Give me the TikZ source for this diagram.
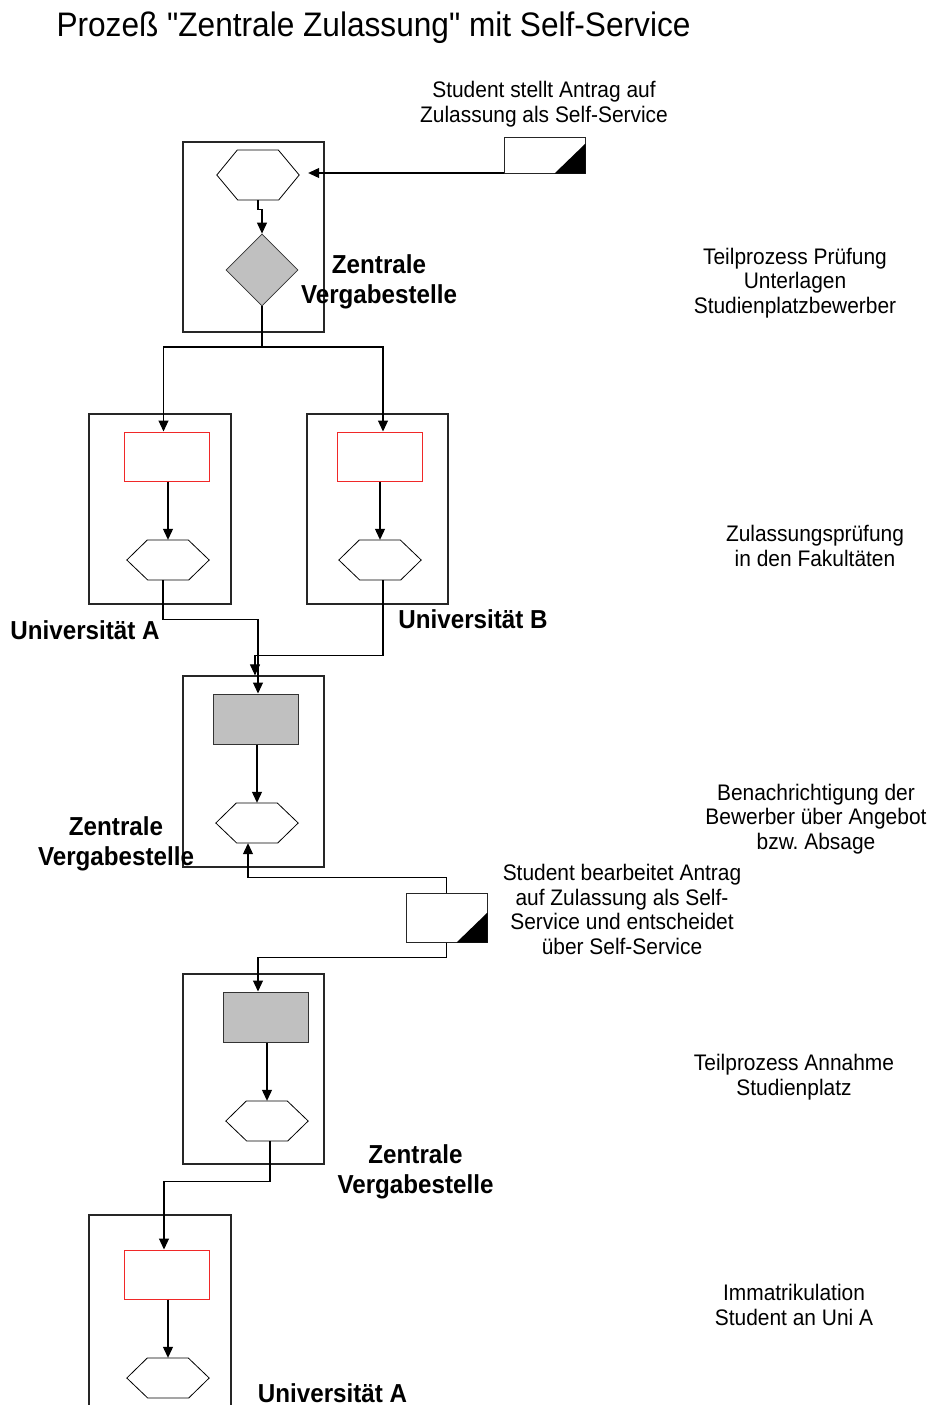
\documentclass[tikz,border=0pt]{standalone}
\usepackage{fontspec}
\setmainfont{Liberation Sans}[FakeStretch=0.93, Ligatures=TeXOff]
\usetikzlibrary{arrows.meta,shapes.geometric}
\definecolor{actred}{RGB}{240,40,40}
\definecolor{eventgray}{RGB}{192,192,192}
\frenchspacing

% event hexagon: name, x, y, height (width is fixed at 82)
\newcommand{\hexevent}[4]{%
  \node[hexslot, minimum height=#4pt] (#1) at (#2,#3) {};
  \draw[hexline] (#1.west) -- ++(20.5,-#4/2) -- ++(41,0) -- (#1.east)
    -- ++(-20.5,#4/2) -- ++(-41,0) -- cycle;
}
% self-service document: name, x, y, height
\newcommand{\selfservice}[4]{%
  \node[docbox, minimum height=#4pt] (#1) at (#2,#3) {};
  \fill (#1.south east) -- ++(-31,0) -- ++(31,-30) -- cycle;
}

\begin{document}
\begin{tikzpicture}[x=1pt,y=-1pt,
  lane/.style={draw=black!85, line width=1.2pt, minimum width=141pt,
    minimum height=190pt, inner sep=0pt},
  actbox/.style={draw=actred, line width=1pt, minimum width=85pt,
    minimum height=49pt, inner sep=0pt},
  graybox/.style={draw=black!80, fill=eventgray, line width=1pt,
    minimum width=85pt, minimum height=50pt, inner sep=0pt},
  hexslot/.style={inner sep=0pt, minimum width=82pt},
  hexline/.style={draw=black, line width=0.8pt},
  docbox/.style={draw=black!85, line width=1pt, minimum width=81pt,
    inner sep=0pt, fill=white},
  flow/.style={draw=black, line width=1.1pt, -{Triangle[length=11pt,width=10pt]}},
  wire/.style={draw=black, line width=1.1pt},
  note/.style={align=center, font=\fontsize{22.5}{24.7}\selectfont, inner sep=0pt},
  org/.style={align=center, font=\fontsize{26}{29.5}\selectfont\bfseries, inner sep=0pt},
]
\fill[white] (0,0) rectangle (934,1405);
\useasboundingbox (0,0) rectangle (934,1405);

\node[font=\fontsize{34}{40}\selectfont, inner sep=0pt] (title) at (373.5,28)
  {Prozeß "Zentrale Zulassung" mit Self-Service};

% organisational lanes
\node[lane] (zvs1) at (253.5,237) {};
\node[lane, minimum width=142pt] (uniA) at (160,509) {};
\node[lane] (uniB) at (377.5,509) {};
\node[lane, minimum height=191pt] (zvs2) at (253.5,771.5) {};
\node[lane] (zvs3) at (253.5,1069) {};
\node[lane, minimum width=142pt, minimum height=200pt] (uniA2) at (160,1315) {};

% events, functions and decisions
\hexevent{ev1}{258}{175}{50}
\node[diamond, draw=black!80, fill=eventgray, line width=0.8pt,
  minimum width=72pt, minimum height=72pt, inner sep=0pt] (check) at (262,270) {};
\node[actbox] (actA) at (166.5,456.5) {};
\node[actbox] (actB) at (379.5,456.5) {};
\hexevent{evA}{168}{560}{40}
\hexevent{evB}{380}{560}{40}
\node[graybox] (notify) at (255.5,719) {};
\hexevent{ev3}{257}{823}{40}
\node[graybox] (accept) at (265.5,1017) {};
\hexevent{ev4}{267}{1121}{40}
\node[actbox] (enrol) at (166.5,1274.5) {};
\hexevent{ev5}{168}{1378}{40}

% self-service documents
\draw[flow] (544.5,173) -- ([xshift=9pt,yshift=2pt]ev1.east);
\selfservice{apply}{544.5}{155}{36}
\selfservice{decide}{446.5}{917.5}{49}

% control flow
\draw[flow] (ev1.south) -- ++(0,9) -| (check.north);
\coordinate (split) at (262,347);
\draw[wire] (check.south) -- (split);
\draw[flow] (split) -| ([xshift=-3pt]actA.north);
\draw[flow] (split) -| ([xshift=3.5pt]actB.north);
\draw[flow] (actA.south -| evA.north) -- (evA.north);
\draw[flow] (actB.south -| evB.north) -- (evB.north);
\draw[flow] ([xshift=-5pt]evA.south) -- ++(0,39) -| ([xshift=2.5pt]notify.north);
\draw[flow] ([xshift=3pt]evB.south) -- ++(0,75) -| ([xshift=1.5pt]zvs2.north);
\draw[flow] (notify.south -| ev3.north) -- (ev3.north);
\draw[flow] (decide.north) -- ++(0,-15) -| ([xshift=-9pt]ev3.south);
\draw[flow] (decide.south) -- ++(0,15) -| ([xshift=-7.5pt]accept.north);
\draw[flow] (accept.south -| ev4.north) -- (ev4.north);
\draw[flow] ([xshift=3pt]ev4.south) -- ++(0,40) -| ([xshift=-2.5pt]enrol.north);
\draw[flow] (enrol.south -| ev5.north) -- (ev5.north);

% labels
\node[note] (t-apply) at (544,104) {Student stellt Antrag auf\\Zulassung als Self-Service};
\node[org] (o-zvs1) at (379,282) {Zentrale\\Vergabestelle};
\node[note] (t-check) at (795,283) {Teilprozess Prüfung\\Unterlagen\\Studienplatzbewerber};
\node[org] (o-uniA) at (85,630) {Universität A};
\node[org] (o-uniB) at (473,619) {Universität B};
\node[note] (t-fac) at (815,546) {Zulassungsprüfung\\in den Fakultäten};
\node[org] (o-zvs2) at (116,844) {Zentrale\\Vergabestelle};
\node[note] (t-notify) at (816,819) {Benachrichtigung der\\Bewerber über Angebot\\bzw. Absage};
\node[note] (t-decide) at (622,909.5) {Student bearbeitet Antrag\\auf Zulassung als Self-\\Service und entscheidet\\über Self-Service};
\node[note] (t-accept) at (794,1077.5) {Teilprozess Annahme\\Studienplatz};
\node[org] (o-zvs3) at (415.5,1172) {Zentrale\\Vergabestelle};
\node[note] (t-enrol) at (794,1305) {Immatrikulation\\Student an Uni A};
\node[org] (o-uniA2) at (332.5,1393) {Universität A};
\end{tikzpicture}
\end{document}
